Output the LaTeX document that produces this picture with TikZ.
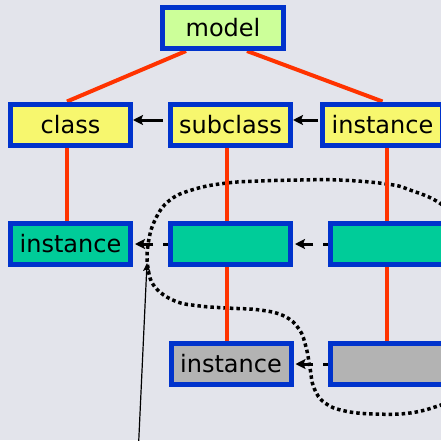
\documentclass[tikz,border=0pt]{standalone}
\usepackage{fontspec}
\setmainfont{DejaVu Sans}
\usetikzlibrary{arrows.meta}

\definecolor{bgcol}{RGB}{227,228,235}
\definecolor{boxblue}{RGB}{0,51,204}
\definecolor{linkred}{RGB}{255,51,0}
\definecolor{modelfill}{RGB}{204,255,153}
\definecolor{classfill}{RGB}{247,247,110}
\definecolor{tealfill}{RGB}{0,204,153}
\definecolor{greyfill}{RGB}{179,179,179}

\pgfdeclarelayer{backdrop}
\pgfdeclarelayer{wires}
\pgfsetlayers{backdrop,wires,main}

\begin{document}
\begin{tikzpicture}[x=1pt,y=-1pt,
  box/.style={draw=boxblue, line width=5pt, minimum width=120pt,
    minimum height=41pt, inner sep=0pt, text=black,
    font=\fontsize{24}{28}\selectfont},
  modelbox/.style={box, fill=modelfill, minimum width=121pt},
  classbox/.style={box, fill=classfill},
  tealbox/.style={box, fill=tealfill},
  greybox/.style={box, fill=greyfill},
  relation/.style={draw=linkred, line width=4pt},
  solidarrow/.style={draw=black, line width=3pt,
    -{Stealth[length=10pt,width=10pt,inset=2pt]}},
  dashedarrow/.style={solidarrow, dash pattern=on 5pt off 10pt on 100pt,
    shorten >=2pt},
  dotline/.style={draw=black, line width=3.5pt, dash pattern=on 3.5pt off 3pt},
  pointer/.style={draw=black, line width=1.2pt,
    -{Stealth[length=8pt,width=7pt,inset=1.5pt]}}]

\useasboundingbox (0,0) rectangle (441,440);

% boxes
\node[modelbox] (model) at (223,28)    {model};
\node[classbox] (cls)   at (70.5,124.5)  {class};
\node[classbox] (sub)   at (230.5,124.5) {subclass};
\node[classbox] (inst)  at (382.5,124.5) {instance};
\node[tealbox]  (objA)  at (70.5,244)  {instance};
\node[tealbox]  (objB)  at (230.5,244) {};
\node[tealbox]  (objC)  at (390.5,244) {};
\node[greybox]  (objD)  at (231,364)   {instance};
\node[greybox]  (objE)  at (390.5,364) {};

% arrows between boxes of a row
\draw[solidarrow, shorten <=5pt] ([yshift=4.5pt]sub.west)  -- ([yshift=4.5pt]cls.east);
\draw[solidarrow, shorten <=2pt] ([yshift=4.5pt]inst.west) -- ([yshift=4.5pt]sub.east);
\draw[dashedarrow] (objB.west) -- (objA.east);
\draw[dashedarrow] (objC.west) -- (objB.east);
\draw[dashedarrow] (objE.west) -- (objD.east);

% pointer from below
\coordinate (ptrfoot) at (138.5,446);
\coordinate (ptrtip)  at (147,263);
\draw[pointer] (ptrfoot) -- (ptrtip);

\begin{pgfonlayer}{wires}
  % hierarchy links
  \draw[relation] ([xshift=-37pt]model.south) -- ([xshift=-3.5pt]cls.north);
  \draw[relation] ([xshift=24pt]model.south)  -- (inst.north);
  \draw[relation] ([xshift=-3.5pt]cls.south) -- ([xshift=-3.5pt]cls.south |- objA.north);
  \draw[relation] ([xshift=-3.5pt]objB.north) -- ([xshift=-3.5pt]objB.north |- sub.south);
  \draw[relation] ([xshift=-3.5pt]objC.north) -- ([xshift=-3.5pt]objC.north |- inst.south);
  \draw[relation] ([xshift=-3.5pt]objB.south) -- ([xshift=-3.5pt]objB.south |- objD.north);
  \draw[relation] ([xshift=-3.5pt]objC.south) -- ([xshift=-3.5pt]objC.south |- objE.north);
\end{pgfonlayer}

\begin{pgfonlayer}{backdrop}
  \fill[bgcol] (0,0) rectangle (441,440);
  % dotted outline around the instance boxes
  \draw[dotline] plot[smooth, tension=0.7] coordinates {
    (470,232) (441,204) (410,190) (387,184) (340,180) (300,180) (260,181)
    (227,183) (195,189) (170,200) (155,220) (148,245) (148,268) (155,287)
    (175,301) (200,306) (227,308) (260,310) (284,316) (299,329) (306,347)
    (310,368) (314,388) (325,403) (345,411) (375,414) (410,413) (441,405)
    (468,394)};
\end{pgfonlayer}
\end{tikzpicture}
\end{document}
